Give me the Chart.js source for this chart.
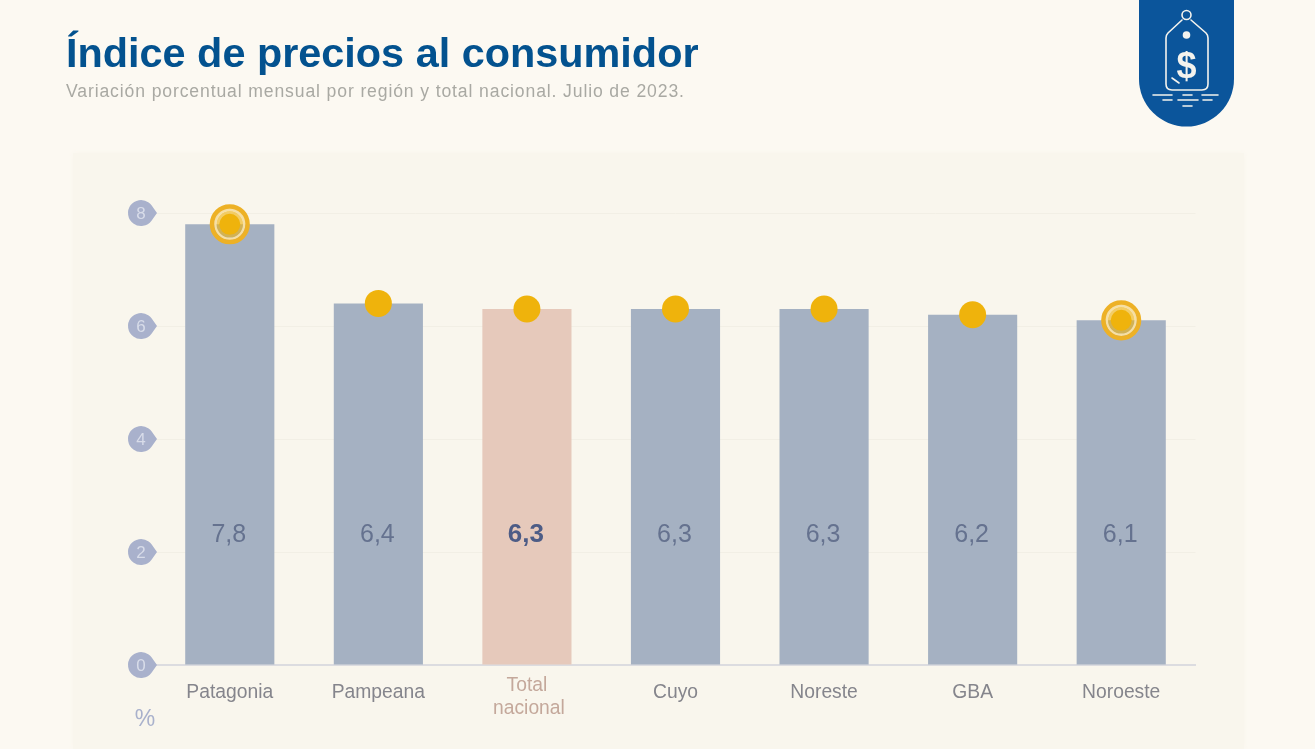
<!DOCTYPE html>
<html lang="es">
<head>
<meta charset="utf-8">
<title>Índice de precios al consumidor</title>
<script src="https://cdn.jsdelivr.net/npm/chart.js@4/dist/chart.umd.min.js"></script>
<style>
  html, body { margin: 0; padding: 0; background: #fcf9f2; overflow: hidden; }
  body { width: 1315px; height: 749px; position: relative; font-family: "Liberation Sans", Arial, sans-serif; }
  .panel { position: absolute; left: 73px; top: 153px; width: 1171px; height: 596px; background: #f9f6ed; box-shadow: 0 0 5px 0 #f9f6ed; }
  h1 { position: absolute; left: 66px; top: 28px; margin: 0; font-size: 41.4px; line-height: 50px; font-weight: 700; color: #03528f; white-space: nowrap; }
  p { position: absolute; left: 66px; top: 81px; margin: 0; font-size: 17.6px; line-height: 21px; letter-spacing: 0.87px; color: #a9a9a3; white-space: nowrap; }
  .logo { position: absolute; left: 1139px; top: 0; }
  .wrap { position: absolute; left: 0; top: 0; width: 1315px; height: 749px; }
  .soft { filter: blur(0.5px); }
</style>
</head>
<body>
<div class="panel"></div>
<h1 class="soft">Índice de precios al consumidor</h1>
<p class="soft">Variación porcentual mensual por región y total nacional. Julio de 2023.</p>

<svg class="logo soft" width="95" height="127" viewBox="0 0 95 127" fill="none" stroke="#f4f3ee" stroke-width="1.6" stroke-linecap="round">
  <path d="M0 0H95V79A47.5 47.5 0 0 1 0 79Z" fill="#0b559b" stroke="none"/>
  <circle cx="47.5" cy="15" r="4.5"/>
  <path d="M43 20L29 33Q27 35 27 38V84Q27 90 33 90H63Q69 90 69 84V38Q69 35 67 33L52 20"/>
  <circle cx="47.5" cy="35" r="3.8" fill="#f4f3ee" stroke="none"/>
  <text x="47.5" y="78" text-anchor="middle" font-family="Liberation Sans" font-weight="700" font-size="36" fill="#f4f3ee" stroke="none">$</text>
  <path d="M33 78L40 83M14 95H33M44 95H53M63 95H79M24 100H33M39 100H59M64 100H73M44 106H53"/>
</svg>

<div class="wrap soft"><canvas id="ipcChart"></canvas></div>

<script>
// ========== Data ==========
const regions = ['Patagonia', 'Pampeana', ['Total', 'nacional'], 'Cuyo', 'Noreste', 'GBA', 'Noroeste'];
const variation = [7.8, 6.4, 6.3, 6.3, 6.3, 6.2, 6.1];
const yTicks = [0, 2, 4, 6, 8];
const highlighted = [true, false, false, false, false, false, true];
const totalIndex = 2;

// ========== Colours ==========
const barBlue = '#a5b1c2';
const barPink = '#e6c9bb';
const yellow = '#efb30c';
const pinBlue = '#a9b1cc';

// ========== Pins, category names and value labels ==========
const decorations = {
  id: 'decorations',
  afterDraw(chart) {
    const { ctx, scales: { x, y } } = chart;
    ctx.save();
    ctx.textAlign = 'center';
    ctx.textBaseline = 'middle';

    // pin shaped tick labels on the y axis
    yTicks.forEach(tick => {
      const py = y.getPixelForValue(tick);
      ctx.fillStyle = pinBlue;
      ctx.beginPath();
      ctx.arc(141, py, 13, Math.PI * 0.2, Math.PI * 1.8);
      ctx.lineTo(157, py);
      ctx.closePath();
      ctx.fill();
      ctx.fillStyle = '#d8dce9';
      ctx.font = '17px "Liberation Sans"';
      ctx.fillText(String(tick), 141, py + 1);
    });
    ctx.fillStyle = pinBlue;
    ctx.font = '23px "Liberation Sans"';
    ctx.fillText('%', 145, 720);

    // category names, two line names sit higher than chart.js would put them
    ctx.font = '19.3px "Liberation Sans"';
    regions.forEach((name, i) => {
      const px = x.getPixelForValue(i);
      ctx.fillStyle = i === totalIndex ? '#c4a89b' : '#85858c';
      if (Array.isArray(name)) {
        ctx.fillText(name[0], px, 686);
        ctx.fillText(name[1], px + 2, 709);
      } else {
        ctx.fillText(name, px, 693);
      }
    });

    // values inside the bars
    variation.forEach((v, i) => {
      const isTotal = i === totalIndex;
      ctx.font = (isTotal ? 'bold 26px' : '25px') + ' "Liberation Sans"';
      ctx.fillStyle = isTotal ? '#4d5c86' : '#65728f';
      ctx.fillText(v.toFixed(1).replace('.', ','), x.getPixelForValue(i) - 1, 535);
    });

    // rings round the highest and lowest value
    variation.forEach((v, i) => {
      if (!highlighted[i]) return;
      const px = x.getPixelForValue(i), py = y.getPixelForValue(v);
      ctx.fillStyle = 'rgba(239, 179, 12, 0.6)';
      ctx.beginPath();
      ctx.arc(px, py, 13.5, 0, Math.PI * 2);
      ctx.fill();
      ctx.fillStyle = yellow;
      ctx.beginPath();
      ctx.arc(px, py, 10.5, 0, Math.PI * 2);
      ctx.fill();
      ctx.lineWidth = 2.5;
      ctx.strokeStyle = '#f6dfa4';
      ctx.beginPath();
      ctx.arc(px, py, 14.5, 0, Math.PI * 2);
      ctx.stroke();
      ctx.lineWidth = 4.5;
      ctx.strokeStyle = '#edb126';
      ctx.beginPath();
      ctx.arc(px, py, 17.8, 0, Math.PI * 2);
      ctx.stroke();
    });
    ctx.restore();
  }
};

// ========== Chart ==========
new Chart(document.getElementById('ipcChart'), {
  data: {
    labels: regions,
    datasets: [
      {
        type: 'line',
        data: variation,
        showLine: false,
        pointRadius: variation.map((v, i) => highlighted[i] ? 0 : 13.5),
        pointBackgroundColor: yellow,
        pointBorderWidth: 0,
        order: 0
      },
      {
        type: 'bar',
        data: variation,
        backgroundColor: variation.map((v, i) => i === totalIndex ? barPink : barBlue),
        categoryPercentage: 0.6,
        barPercentage: 1,
        order: 1
      }
    ]
  },
  options: {
    responsive: true,
    maintainAspectRatio: false,
    animation: false,
    layout: { padding: { top: 213, right: 119.5, left: 0, bottom: 0 } },
    plugins: { legend: { display: false }, tooltip: { enabled: false } },
    scales: {
      x: {
        afterFit: scale => { scale.height = 84; },
        grid: { display: false },
        border: { color: '#dcdce0', width: 2 },
        ticks: { display: false }
      },
      y: {
        min: 0,
        max: 8,
        afterFit: scale => { scale.width = 155.5; },
        afterBuildTicks: scale => { scale.ticks = yTicks.map(value => ({ value })); },
        ticks: { display: false },
        grid: { color: '#f2efe5', lineWidth: 1, drawTicks: false },
        border: { display: false }
      }
    }
  },
  plugins: [decorations]
});
</script>
</body>
</html>
